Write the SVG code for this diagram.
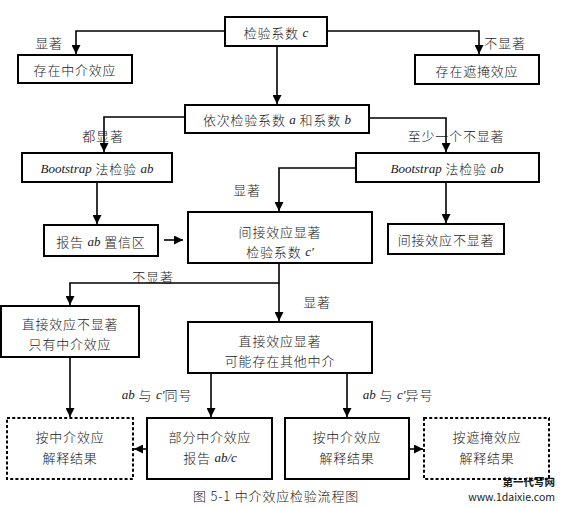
<svg xmlns="http://www.w3.org/2000/svg" width="565" height="508" viewBox="0 0 565 508">
<style>
  .box { fill: #fff; stroke: #000; stroke-width: 2; }
  .dash { fill: #fff; stroke: #000; stroke-width: 2; stroke-dasharray: 3 2.2; }
  .con { fill: none; stroke: #000; stroke-width: 1.6; }
  text { font-family: "Liberation Serif", "Noto Sans CJK SC", serif; font-size: 13px; fill: #1a1a1a; text-anchor: middle; dominant-baseline: central; letter-spacing: 0.8px; }
  .cjk { font-family: "Noto Sans CJK SC", "Liberation Serif", sans-serif; font-weight: 300; }
  .it { font-family: "Liberation Serif", serif; font-style: italic; letter-spacing: 0; }
  .wm { font-family: "Noto Sans CJK SC", "DejaVu Sans", sans-serif; font-size: 10.5px; letter-spacing: 0; text-anchor: end; }
</style>
<defs>
  <marker id="arr" markerUnits="userSpaceOnUse" markerWidth="9" markerHeight="9" viewBox="0 0 9 9" refX="9" refY="4.5" orient="auto">
    <path d="M0,0 L9,4.5 L0,9 z" fill="#000"/>
  </marker>
</defs>

<g id="connectors">
  <path class="con" d="M225,31 H76 V54" marker-end="url(#arr)"/>
  <path class="con" d="M327,31 H479 V54" marker-end="url(#arr)"/>
  <path class="con" d="M277,46 V104" marker-end="url(#arr)"/>
  <path class="con" d="M185,117 H104 V152" marker-end="url(#arr)"/>
  <path class="con" d="M369,118 H446 V152" marker-end="url(#arr)"/>
  <path class="con" d="M97,182 V224" marker-end="url(#arr)"/>
  <path class="con" d="M164,240 H183" marker-end="url(#arr)"/>
  <path class="con" d="M356,168 H279 V211" marker-end="url(#arr)"/>
  <path class="con" d="M446,182 V223" marker-end="url(#arr)"/>
  <path class="con" d="M279,263 V283 H70 V305" marker-end="url(#arr)"/>
  <path class="con" d="M279,283 V321" marker-end="url(#arr)"/>
  <path class="con" d="M70,357 V417" marker-end="url(#arr)"/>
  <path class="con" d="M211,373 V417" marker-end="url(#arr)"/>
  <path class="con" d="M347,373 V417" marker-end="url(#arr)"/>
  <path class="con" d="M146,449 H134" marker-end="url(#arr)"/>
  <path class="con" d="M410,449 H423" marker-end="url(#arr)"/>
</g>

<g id="labels">
  <text class="cjk" x="49" y="42">显著</text>
  <text class="cjk" x="505" y="42">不显著</text>
  <text class="cjk" x="103" y="135">都显著</text>
  <text class="cjk" x="456" y="135">至少一个不显著</text>
  <text class="cjk" x="247" y="189">显著</text>
  <text class="cjk" x="153" y="276">不显著</text>
  <text class="cjk" x="317" y="301">显著</text>
  <text x="157" y="394"><tspan class="it">ab</tspan><tspan class="cjk"> 与 </tspan><tspan class="it">c′</tspan><tspan class="cjk">同号</tspan></text>
  <text x="398" y="394"><tspan class="it">ab</tspan><tspan class="cjk"> 与 </tspan><tspan class="it">c′</tspan><tspan class="cjk">异号</tspan></text>
</g>

<g id="n_c">
  <rect class="box" x="225" y="17" width="102" height="29"/>
  <text x="276" y="31.5"><tspan class="cjk">检验系数 </tspan><tspan class="it">c</tspan></text>
</g>
<g id="n_med">
  <rect class="box" x="18" y="55" width="114" height="28"/>
  <text class="cjk" x="75" y="69">存在中介效应</text>
</g>
<g id="n_mask">
  <rect class="box" x="415" y="55" width="124" height="29"/>
  <text class="cjk" x="477" y="70">存在遮掩效应</text>
</g>
<g id="n_seq">
  <rect class="box" x="185" y="105" width="184" height="28"/>
  <text x="277" y="119"><tspan class="cjk">依次检验系数 </tspan><tspan class="it">a</tspan><tspan class="cjk"> 和系数 </tspan><tspan class="it">b</tspan></text>
</g>
<g id="n_bootL">
  <rect class="box" x="22" y="153" width="150" height="29"/>
  <text x="97" y="168"><tspan class="it">Bootstrap</tspan><tspan class="cjk"> 法检验 </tspan><tspan class="it">ab</tspan></text>
</g>
<g id="n_bootR">
  <rect class="box" x="356" y="153" width="183" height="29"/>
  <text x="447" y="168"><tspan class="it">Bootstrap</tspan><tspan class="cjk"> 法检验 </tspan><tspan class="it">ab</tspan></text>
</g>
<g id="n_ci">
  <rect class="box" x="44" y="225" width="114" height="31"/>
  <text x="101" y="240.5"><tspan class="cjk">报告 </tspan><tspan class="it">ab</tspan><tspan class="cjk"> 置信区</tspan></text>
</g>
<g id="n_ind">
  <rect class="box" x="188" y="212" width="184" height="51"/>
  <text class="cjk" x="280" y="231">间接效应显著</text>
  <text x="280" y="251"><tspan class="cjk">检验系数 </tspan><tspan class="it">c′</tspan></text>
</g>
<g id="n_indNS">
  <rect class="box" x="388" y="224" width="116" height="30"/>
  <text class="cjk" x="446" y="239">间接效应不显著</text>
</g>
<g id="n_dirNS">
  <rect class="box" x="1" y="306" width="138" height="51"/>
  <text class="cjk" x="70" y="323">直接效应不显著</text>
  <text class="cjk" x="70" y="343">只有中介效应</text>
</g>
<g id="n_dir">
  <rect class="box" x="188" y="322" width="184" height="51"/>
  <text class="cjk" x="280" y="340">直接效应显著</text>
  <text class="cjk" x="280" y="360">可能存在其他中介</text>
</g>
<g id="n_interpL">
  <rect class="dash" x="7" y="418" width="126" height="61"/>
  <text class="cjk" x="70" y="436">按中介效应</text>
  <text class="cjk" x="70" y="457">解释结果</text>
</g>
<g id="n_partial">
  <rect class="box" x="147" y="418" width="125" height="61"/>
  <text class="cjk" x="210" y="436">部分中介效应</text>
  <text x="210" y="457"><tspan class="cjk">报告 </tspan><tspan class="it">ab/c</tspan></text>
</g>
<g id="n_interpM">
  <rect class="box" x="285" y="418" width="124" height="61"/>
  <text class="cjk" x="347" y="436">按中介效应</text>
  <text class="cjk" x="347" y="457">解释结果</text>
</g>
<g id="n_interpR">
  <rect class="dash" x="424" y="418" width="125" height="61"/>
  <text class="cjk" x="487" y="436">按遮掩效应</text>
  <text class="cjk" x="487" y="457">解释结果</text>
</g>

<g id="caption">
  <text class="cjk" x="276" y="495">图 5-1 中介效应检验流程图</text>
</g>
<g id="watermark">
  <text class="wm" x="555" y="481" style="font-weight:bold">第一代写网</text>
  <text class="wm" x="555" y="496">www.1daixie.com</text>
</g>
</svg>
